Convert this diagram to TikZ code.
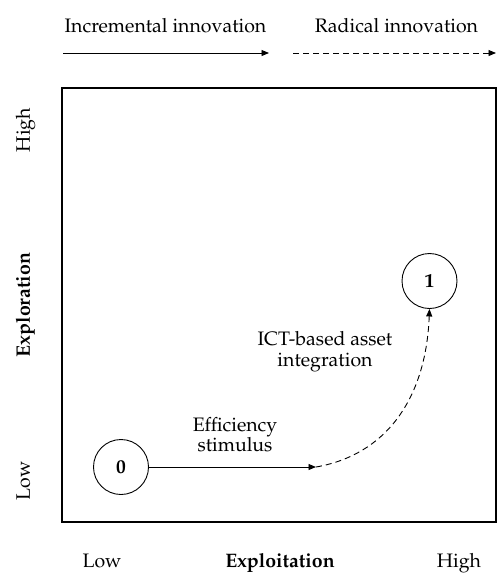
\documentclass[tikz,border=0pt]{standalone}
\usepackage[T1]{fontenc}
\usepackage{mathpazo}
\usetikzlibrary{arrows.meta}

\tikzset{
  lbl/.style={font=\fontsize{19.5}{20.5}\selectfont, inner sep=0pt},
  lblb/.style={lbl, font=\fontsize{19.5}{20.5}\selectfont\bfseries},
  state/.style={circle, draw, line width=0.9pt, minimum size=55pt, inner sep=0pt,
                font=\fontsize{19.5}{20.5}\selectfont\bfseries},
  tip/.style={-{Triangle[length=7.5pt,width=6pt]}},
  flow/.style={tip, line width=0.9pt},
  dflow/.style={tip, line width=0.9pt, dash pattern=on 6pt off 4pt},
  frame/.style={draw, line width=1.1pt}
}

\begin{document}
\begin{tikzpicture}[x=1pt, y=-1pt]
  \useasboundingbox (0,0) rectangle (497,574);

  % quadrant frame
  \draw[frame] (62,88) rectangle (496,522);

  % innovation legend
  \node[lbl, anchor=base] (inc) at (165.5,32) {Incremental innovation};
  \node[lbl, anchor=base] (rad) at (396.5,32) {Radical innovation};
  \coordinate (incA) at (63,53);
  \coordinate (incB) at (269,53);
  \coordinate (radA) at (293,53);
  \coordinate (radB) at (496,53);
  \draw[flow] (incA) -- (incB);
  \draw[dflow] (radA) -- (radB);

  % vertical axis
  \node[lbl, anchor=base, rotate=90] (yhigh) at (30,130) {High};
  \node[lblb, anchor=base, rotate=90] (yname) at (30,305) {Exploration};
  \node[lbl, anchor=base, rotate=90] (ylow) at (30,481) {Low};

  % horizontal axis
  \node[lbl, anchor=base] (xlow) at (102,567.5) {Low};
  \node[lblb, anchor=base] (xname) at (280,567.5) {Exploitation};
  \node[lbl, anchor=base] (xhigh) at (459,567.5) {High};

  % states and transitions
  \node[state] (c0) at (121,467) {0};
  \node[state] (c1) at (429.5,281) {1};
  \coordinate (mid) at (316,467);

  \draw[flow] (c0.east) -- (mid);
  \draw[dflow] (mid) .. controls (385,455) and (426,400) .. (c1.south);

  \node[lbl, align=center] (effl) at (235,434.5) {Efficiency\\stimulus};
  \node[lbl, align=center] (ictl) at (325,351.5) {ICT-based asset\\integration};
\end{tikzpicture}
\end{document}
